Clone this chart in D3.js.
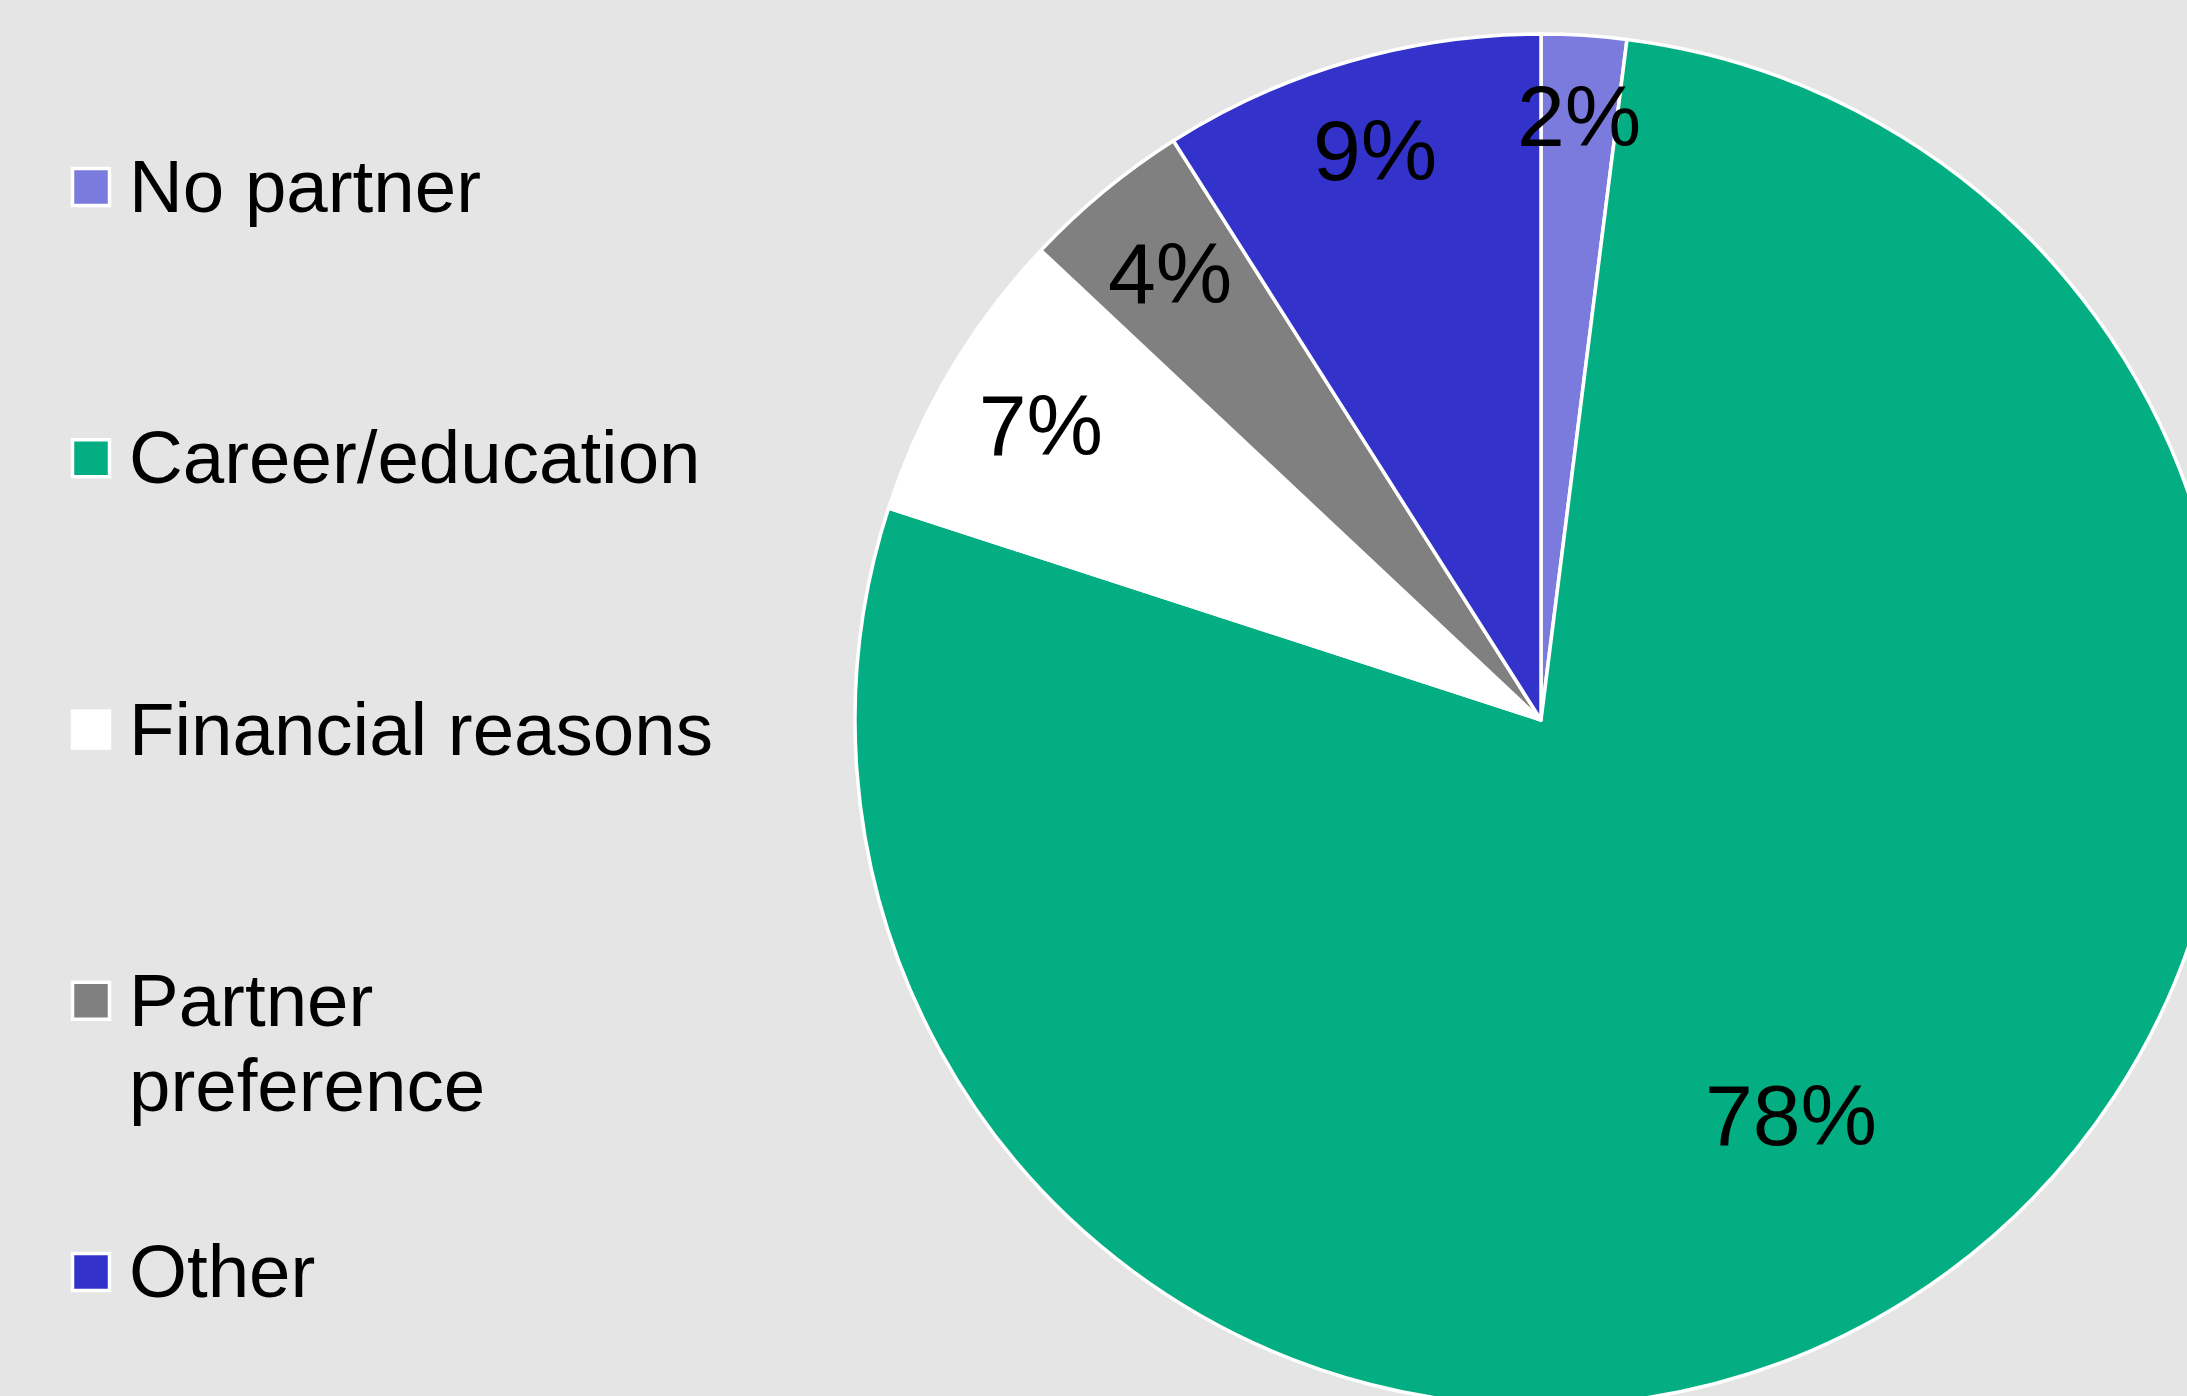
<!DOCTYPE html>
<html>
<head>
<meta charset="utf-8">
<script src="https://cdn.jsdelivr.net/npm/d3@7"></script>
<style>
  html, body { margin: 0; padding: 0; background: #e5e5e5; overflow: hidden; }
  svg { display: block; }
  text { font-family: "Liberation Sans", Arial, sans-serif; fill: #000; }
</style>
</head>
<body>
<svg id="chart" width="2187" height="1396"></svg>
<script>
// Reasons for living apart, share of respondents (%)
const categories = ["No partner", "Career/education", "Financial reasons", "Partner preference", "Other"];
const shares = [2, 78, 7, 4, 9];
const colors = ["#7b7bdd", "#03ae82", "#ffffff", "#808080", "#3333cc"];
// Legend text, broken onto lines as displayed
const legendLines = [["No partner"], ["Career/education"], ["Financial reasons"], ["Partner", "preference"], ["Other"]];

const W = 2187, H = 1396;
const svg = d3.select("#chart");

svg.append("rect").attr("width", W).attr("height", H).attr("fill", "#e5e5e5");

// Pie
const cx = 1541, cy = 720, radius = 686;
const data = categories.map((c, i) => ({ category: c, value: shares[i], color: colors[i] }));

const pie = d3.pie().value(d => d.value).sort(null);
const arc = d3.arc().innerRadius(0).outerRadius(radius);
const arcs = pie(data);

const g = svg.append("g").attr("transform", `translate(${cx},${cy})`);

g.selectAll("path.slice")
  .data(arcs)
  .join("path")
  .attr("class", "slice")
  .attr("d", arc)
  .attr("fill", d => d.data.color)
  .attr("stroke", "#ffffff")
  .attr("stroke-width", 3.5)
  .attr("stroke-linejoin", "round");

// Value labels: small slices get a label box pushed out until its far corner
// sits just inside the rim; the large slice keeps its label further inside.
const labelFont = 86;
const boxH = labelFont * 1.16;
const rimFit = radius - 26;
const innerArc = d3.arc().innerRadius(radius * 0.68).outerRadius(radius * 0.68);

const labels = g.selectAll("text.value")
  .data(arcs)
  .join("text")
  .attr("class", "value")
  .attr("text-anchor", "middle")
  .attr("dy", "0.36em")
  .style("font-size", labelFont + "px")
  .text(d => d.data.value + "%");

labels.attr("transform", function (d) {
  if (d.data.value > 50) {
    const p = innerArc.centroid(d);
    return `translate(${p[0]},${p[1]})`;
  }
  const a = (d.startAngle + d.endAngle) / 2;
  const sx = Math.sin(a), cy_ = -Math.cos(a);
  const w = this.getComputedTextLength();
  const rho = rimFit - (Math.abs(sx) * w / 2 + Math.abs(cy_) * boxH / 2);
  return `translate(${rho * sx},${rho * cy_})`;
});

// Legend
const ly = d3.scalePoint().domain(categories).range([187, 1272]);
const legend = svg.append("g");

const items = legend.selectAll("g.item")
  .data(categories)
  .join("g")
  .attr("class", "item")
  .attr("transform", d => `translate(0,${ly(d)})`);

items.append("rect")
  .attr("x", 72.5)
  .attr("y", -18.5)
  .attr("width", 37)
  .attr("height", 37)
  .attr("fill", (d, i) => colors[i])
  .attr("stroke", "#ffffff")
  .attr("stroke-width", 3.5);

items.append("text")
  .attr("x", 129)
  .attr("y", 25)
  .style("font-size", "74.5px")
  .selectAll("tspan")
  .data((d, i) => legendLines[i])
  .join("tspan")
  .attr("x", 129)
  .attr("dy", (d, j) => j === 0 ? 0 : 85)
  .text(d => d);
</script>
</body>
</html>
